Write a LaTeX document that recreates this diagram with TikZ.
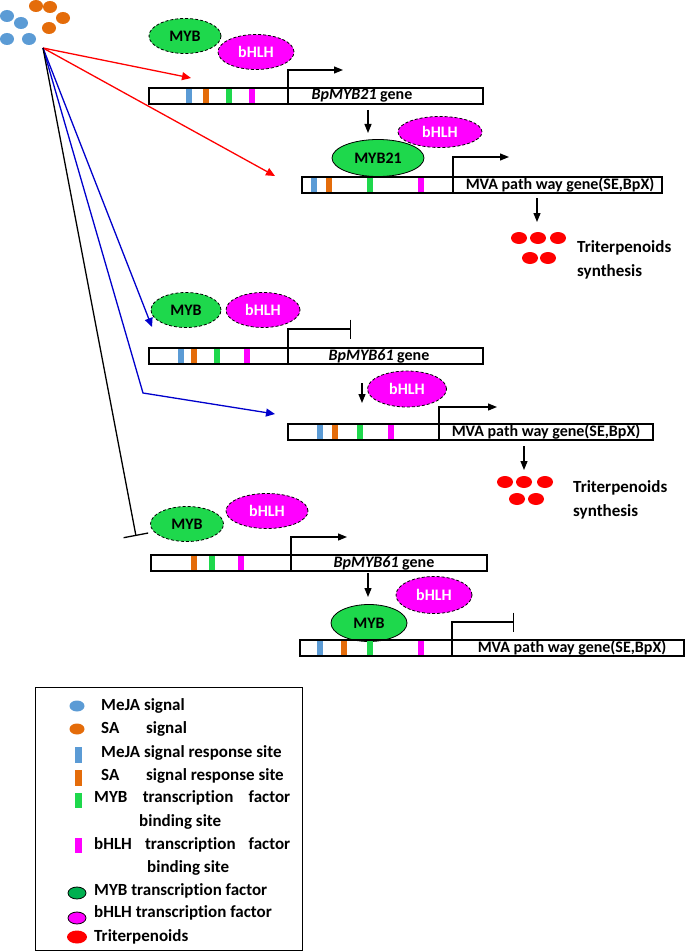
\documentclass[tikz,border=0pt]{standalone}
\usepackage{fontspec}
\setmainfont{Carlito}[Ligatures=CommonOff]
\usetikzlibrary{shapes.geometric}
\usetikzlibrary{arrows.meta}
\usepackage{xcolor}
\definecolor{mejablue}{HTML}{5B9BD5}
\definecolor{saorange}{HTML}{E46C0A}
\definecolor{mybgreen}{HTML}{1ED84C}
\definecolor{bhlhpink}{HTML}{FF00FF}
\definecolor{legendgreen}{HTML}{00B050}
\definecolor{pathblue}{HTML}{0000CC}

\begin{document}
\begin{tikzpicture}[x=1pt, y=-1pt, font=\fontsize{16}{19}\selectfont\bfseries]
        % ================= 样式定义 =================
        \tikzset{
            % 转录因子:虚线椭圆
            mybtf/.style={ellipse, draw=black, densely dashed, line width=0.8pt, fill=mybgreen, minimum width=72pt, minimum height=35pt, inner sep=0pt},
            bhlhtf/.style={ellipse, draw=black, densely dashed, line width=0.8pt, fill=bhlhpink, text=white, minimum width=76pt, minimum height=35pt, inner sep=0pt},
            % 基因条
            gene_bar/.style={line width=1.2pt, black},
            % 启动/抑制箭头
            prom/.style={line width=1.2pt, -{Triangle[length=9pt,width=7pt]}},
            repr/.style={line width=1.2pt, -{Bar[width=19pt]}},
            red_path/.style={line width=1.3pt, red, -{Triangle[length=9pt,width=8pt]}},
            blue_path/.style={line width=1.3pt, pathblue, -{Triangle[length=9pt,width=8pt]}},
            black_path/.style={line width=1.3pt, black, -{Bar[width=25pt]}},
            lbl/.style={anchor=west, inner sep=0pt, font=\fontsize{17}{20}\selectfont\bfseries}
        }
        \useasboundingbox (0,0) rectangle (685,952);

        % ================= 信号 (MeJA / SA) =================
        \foreach \x/\y in {7/16, 21/23, 7/39, 29/39}
            \fill[mejablue] (\x,\y) ellipse (7 and 6);
        \foreach \x/\y in {36/6, 50/7, 63/18, 49/28}
            \fill[saorange] (\x,\y) ellipse (7 and 6);
        \coordinate (sig) at (43,48);

        % ================= 第一部分:BpMYB21 =================
        \node[mybtf] (myb1) at (185,36) {MYB};
        \node[bhlhtf] (bhlh1) at (256,52) {bHLH};
        \foreach \x/\c in {186/mejablue, 203/saorange, 226/mybgreen, 249/bhlhpink}
            \fill[\c] (\x,88) rectangle ++(6,16);
        \draw[gene_bar] (149,88) rectangle (483,104);
        \draw[gene_bar] (288,88) -- (288,104);
        \node (g1) at (362,96) {\textit{BpMYB21} gene};
        \coordinate (tss1) at (288,88);
        \coordinate (tss1e) at (343,70);
        \draw[prom] (tss1) |- (tss1e);

        \coordinate (r1) at (191,78);
        \coordinate (r2) at (275,176);
        \draw[red_path] (sig) -- (r1);
        \draw[red_path] (sig) -- (r2);

        \coordinate (d1a) at (368,110);
        \coordinate (d1b) at (368,133);
        \draw[prom] (d1a) -- (d1b);

        % MVA 基因 (被 MYB21 激活)
        \node[bhlhtf, minimum width=84pt, minimum height=31pt] (bhlh2) at (440,132) {bHLH};
        \node[mybtf, solid, minimum width=92pt, minimum height=37pt] (myb21) at (378,158) {MYB21};
        \foreach \x/\c in {311/mejablue, 326/saorange, 367/mybgreen, 418/bhlhpink}
            \fill[\c] (\x,177) rectangle ++(6,16);
        \draw[gene_bar] (302,177) rectangle (662,193);
        \draw[gene_bar] (453,177) -- (453,193);
        \node (g2) at (560,185) {MVA path way gene(SE,BpX)};
        \coordinate (tss2) at (453,177);
        \coordinate (tss2e) at (509,157);
        \draw[prom] (tss2) |- (tss2e);

        \coordinate (d2a) at (537,198);
        \coordinate (d2b) at (537,222);
        \draw[prom] (d2a) -- (d2b);
        \foreach \x/\y in {519/238, 538/238, 558/238, 530/258, 548/258}
            \fill[red] (\x,\y) ellipse (8 and 6);
        \node[lbl] (tri1) at (577,248) {Triterpenoids};
        \node[lbl] (syn1) at (577,272) {synthesis};

        % ================= 第二部分:BpMYB61 被抑制 =================
        \coordinate (b1) at (152,327);
        \coordinate (bk) at (143,393);
        \coordinate (b2) at (275,414);
        \draw[blue_path] (sig) -- (b1);
        \draw[blue_path] (sig) -- (bk) -- (b2);

        \node[mybtf, minimum width=70pt] (myb3) at (186,310) {MYB};
        \node[bhlhtf, minimum width=74pt] (bhlh3) at (263,310) {bHLH};
        \foreach \x/\c in {178/mejablue, 191/saorange, 214/mybgreen, 244/bhlhpink}
            \fill[\c] (\x,348) rectangle ++(6,16);
        \draw[gene_bar] (149,348) rectangle (483,364);
        \draw[gene_bar] (288,348) -- (288,364);
        \node (g3) at (379,356) {\textit{BpMYB61} gene};
        \coordinate (tss3) at (288,348);
        \coordinate (tss3e) at (351,329);
        \draw[repr] (tss3) |- (tss3e);

        % MVA 基因 (bHLH 作用)
        \coordinate (d3a) at (362,383);
        \coordinate (d3b) at (362,403);
        \draw[prom] (d3a) -- (d3b);
        \node[bhlhtf, minimum width=79pt, minimum height=36pt] (bhlh4) at (407,389) {bHLH};
        \foreach \x/\c in {317/mejablue, 332/saorange, 357/mybgreen, 388/bhlhpink}
            \fill[\c] (\x,424) rectangle ++(6,16);
        \draw[gene_bar] (288,424) rectangle (653,440);
        \draw[gene_bar] (439,424) -- (439,440);
        \node (g4) at (546,432) {MVA path way gene(SE,BpX)};
        \coordinate (tss4) at (439,424);
        \coordinate (tss4e) at (497,407);
        \draw[prom] (tss4) |- (tss4e);

        \coordinate (d4a) at (524,446);
        \coordinate (d4b) at (524,470);
        \draw[prom] (d4a) -- (d4b);
        \foreach \x/\y in {505/482, 524/482, 545/482, 517/499, 536/499}
            \fill[red] (\x,\y) ellipse (8 and 6);
        \node[lbl] (tri2) at (573,488) {Triterpenoids};
        \node[lbl] (syn2) at (573,512) {synthesis};

        % ================= 第三部分:MYB 被抑制 =================
        \coordinate (k1) at (136,536);
        \draw[black_path] (sig) -- (k1);

        \node[mybtf, minimum width=73pt] (myb5) at (187,524) {MYB};
        \node[bhlhtf, minimum width=82pt] (bhlh5) at (267,511) {bHLH};
        \foreach \x/\c in {191/saorange, 209/mybgreen, 238/bhlhpink}
            \fill[\c] (\x,555) rectangle ++(6,16);
        \draw[gene_bar] (151,555) rectangle (487,571);
        \draw[gene_bar] (291,555) -- (291,571);
        \node (g5) at (384,563) {\textit{BpMYB61} gene};
        \coordinate (tss5) at (291,555);
        \coordinate (tss5e) at (347,537);
        \draw[prom] (tss5) |- (tss5e);

        \coordinate (d5a) at (368,573);
        \coordinate (d5b) at (368,597);
        \draw[prom] (d5a) -- (d5b);

        \node[bhlhtf, minimum width=76pt, minimum height=37pt] (bhlh6) at (434,595) {bHLH};
        \node[mybtf, solid, minimum width=76pt, minimum height=37pt] (myb6) at (369,623) {MYB};
        \foreach \x/\c in {317/mejablue, 341/saorange, 367/mybgreen, 418/bhlhpink}
            \fill[\c] (\x,640) rectangle ++(6,16);
        \draw[gene_bar] (300,640) rectangle (684,656);
        \draw[gene_bar] (452,640) -- (452,656);
        \node (g6) at (572,648) {MVA path way gene(SE,BpX)};
        \coordinate (tss6) at (452,640);
        \coordinate (tss6e) at (514,622);
        \draw[repr] (tss6) |- (tss6e);

        % ================= 图例 =================
        \draw[line width=1pt] (35,687) rectangle (302,950);
        \fill[mejablue] (77,706) ellipse (7.5 and 5.5);
        \fill[saorange] (77,729) ellipse (7.5 and 5.5);
        \fill[mejablue] (75,747) rectangle (82,763);
        \fill[saorange] (75,770) rectangle (82,786);
        \fill[mybgreen] (75,793) rectangle (82,808);
        \fill[bhlhpink] (75,838) rectangle (82,853);
        \filldraw[fill=legendgreen, draw=black, line width=0.8pt] (77,893) ellipse (9 and 6);
        \filldraw[fill=bhlhpink, draw=black, line width=0.8pt] (77,918) ellipse (9 and 6);
        \fill[red] (77,937) ellipse (10 and 6.5);

        \node[lbl] (l1) at (101,706) {MeJA signal};
        \node[lbl] (l2) at (101,729) {\makebox[45pt][l]{SA}signal};
        \node[lbl] (l3) at (101,753) {MeJA signal response site};
        \node[lbl] (l4) at (101,776) {\makebox[45pt][l]{SA}signal response site};
        \node[lbl] (l5) at (94,798) {\makebox[196pt][s]{MYB transcription factor}};
        \node[lbl] (l5b) at (139,822) {binding site};
        \node[lbl] (l6) at (94,845) {\makebox[196pt][s]{bHLH transcription factor}};
        \node[lbl] (l6b) at (147,868) {binding site};
        \node[lbl] (l7) at (94,891) {MYB transcription factor};
        \node[lbl] (l8) at (94,913) {bHLH transcription factor};
        \node[lbl] (l9) at (94,937) {Triterpenoids};

    \end{tikzpicture}
\end{document}
